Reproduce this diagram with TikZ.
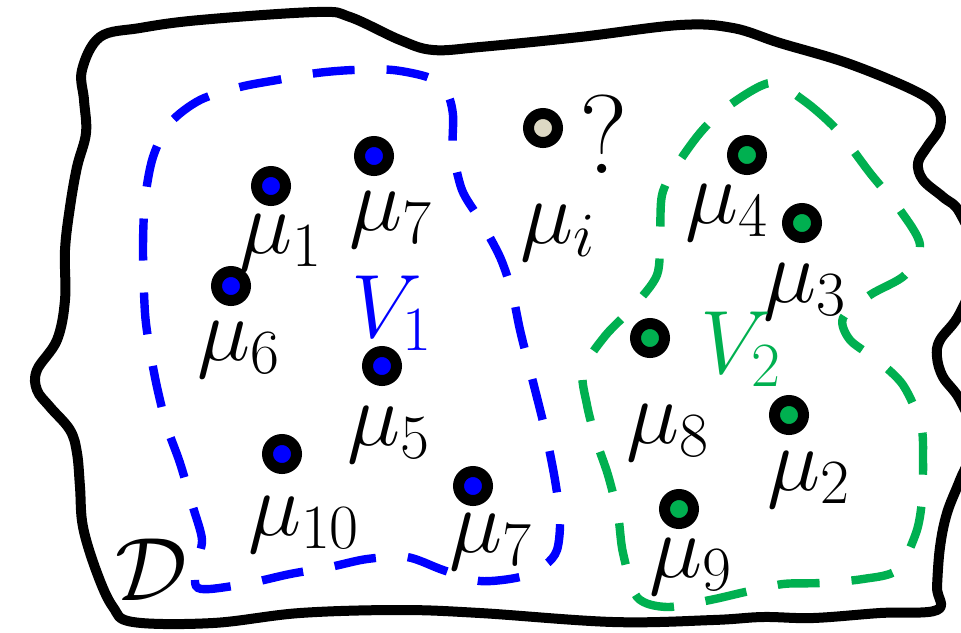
\documentclass[tikz,border=0pt]{standalone}
\usepackage{fix-cm}
\usepackage{tikz}
\definecolor{setblue}{HTML}{0000FF}
\definecolor{setgreen}{HTML}{00B050}
\definecolor{querytan}{HTML}{DDD9C4}

\begin{document}
\begin{tikzpicture}[x=0.5pt,y=-0.5pt,
  boundary/.style={line width=5pt,line join=round},
  cell/.style={line width=4.2pt,dash pattern=on 21pt off 16pt},
  pt/.style={circle,draw=black,line width=5.5pt,minimum size=14.5pt,inner sep=0pt},
  lab/.style={anchor=base,inner sep=0pt,font=\fontsize{45}{54}\selectfont},
]
  \useasboundingbox[fill=white] (0,0) rectangle (961,632);

  \begin{scope}
    \clip (0,0) rectangle (961,632);
    \draw[boundary] plot[smooth cycle,tension=0.6] coordinates {
      (100,37) (140,28) (200,20) (317,12) (350,17) (400,40) (433,50) (480,47)
      (580,37) (680,25) (733,28) (780,43) (847,63) (913,90) (937,107)
      (940,127) (927,147) (918,163) (923,180) (943,197) (960,213)
      (978,262) (960,313) (940,340) (937,357) (943,377) (960,400)
      (975,440) (960,480) (947,513) (940,547) (937,587) (937,610)
      (880,613) (813,618) (763,617) (713,620) (613,622) (480,613)
      (400,610) (300,613) (213,623) (133,622) (113,607) (97,573)
      (83,527) (80,487) (77,453) (70,430) (50,407) (37,390) (37,370)
      (57,340) (65,300) (65,250) (70,207) (77,167) (86,133) (84,100)
      (82,70)};
  \end{scope}

  \draw[cell,setblue] plot[smooth cycle,tension=0.5] coordinates {
    (200,100) (240,87) (277,80) (317,73) (353,70) (393,70) (430,78)
    (447,93) (453,115) (453,150) (462,190) (480,220) (500,257)
    (512,292) (520,330) (530,370) (545,430) (555,480) (560,520)
    (557,550) (545,565) (520,577) (480,581) (443,570) (407,557)
    (367,559) (330,567) (290,574) (250,583) (210,589) (196,586)
    (196,565) (202,540) (193,507) (180,463) (167,427) (157,387)
    (150,350) (145,313) (143,250) (145,200) (153,157) (170,123)};

  \draw[cell,setgreen] plot[smooth cycle,tension=0.5] coordinates {
    (770,83) (803,100) (837,130) (870,173) (900,210) (920,245)
    (905,275) (870,295) (843,318) (850,340) (877,360) (903,385)
    (921,425) (923,460) (922,500) (916,533) (897,570) (863,579)
    (820,583) (783,584) (745,592) (710,600) (667,607) (637,597)
    (623,553) (618,515) (608,475) (596,440) (587,405) (583,370)
    (605,336) (633,307) (657,275) (660,235) (662,195) (675,168)
    (700,133) (727,107)};

  \node[pt,fill=setblue] (mu1) at (271,186) {};
  \node[pt,fill=setblue] (mu7) at (374,156) {};
  \node[pt,fill=setblue] (mu6) at (231,286) {};
  \node[pt,fill=setblue] (mu5) at (382,366) {};
  \node[pt,fill=setblue] (mu10) at (282,454) {};
  \node[pt,fill=setblue] (mu7b) at (473,486) {};
  \node[pt,fill=querytan] (mui) at (543,128) {};
  \node[pt,fill=setgreen] (mu4) at (747,155) {};
  \node[pt,fill=setgreen] (mu3) at (802,223) {};
  \node[pt,fill=setgreen] (mu8) at (650,338) {};
  \node[pt,fill=setgreen] (mu2) at (789,415) {};
  \node[pt,fill=setgreen] (mu9) at (679,509) {};

  \node[lab] (l1) at (281,253) {$\mu_1$};
  \node[lab] (l7) at (391,230) {$\mu_7$};
  \node[lab] (l6) at (239,360) {$\mu_6$};
  \node[lab] (l5) at (389,445) {$\mu_5$};
  \node[lab] (l10) at (304,535) {$\mu_{10}$};
  \node[lab] (l7b) at (491,552) {$\mu_7$};
  \node[lab] (li) at (558,243) {$\mu_i$};
  \node[lab,font=\fontsize{56}{64}\selectfont] (query) at (604,173) {?};
  \node[lab] (l4) at (727,223) {$\mu_4$};
  \node[lab] (l3) at (805,302) {$\mu_3$};
  \node[lab] (l8) at (668,443) {$\mu_8$};
  \node[lab] (l2) at (809,490) {$\mu_2$};
  \node[lab] (l9) at (691,577) {$\mu_9$};
  \node[lab,text=setblue] (v1) at (392,337) {$V_1$};
  \node[lab,text=setgreen] (v2) at (741,373) {$V_2$};
  \node[lab] (dom) at (151,600) {$\mathcal{D}$};
\end{tikzpicture}
\end{document}
